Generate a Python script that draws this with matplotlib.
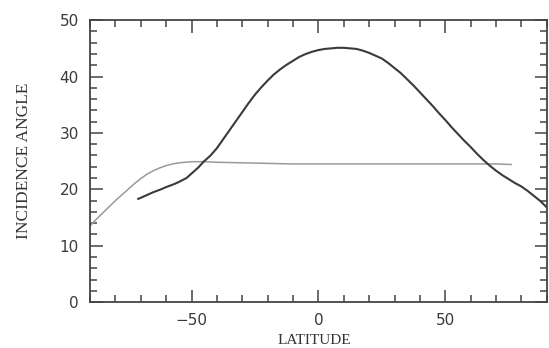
import matplotlib.pyplot as plt
from matplotlib.ticker import MultipleLocator

# dark curve
lat_dark = [-71, -68, -65, -62, -60, -57, -55, -52, -50, -47.5, -45, -42.5, -40, -37.5, -35,
            -32.5, -30, -27.5, -25, -22.5, -20, -17.5, -15, -12.5, -10, -7.5, -5, -2.5,
            0, 2.5, 5, 7.5, 10, 12.5, 15, 17.5, 20, 22.5, 25, 27.5, 30, 32.5, 35, 37.5,
            40, 42.5, 45, 47.5, 50, 52.5, 55, 57.5, 60, 62.5, 65, 67.5, 70, 72.5, 75,
            77.5, 80, 82.5, 85, 87.5, 90]
ang_dark = [18.3, 18.9, 19.5, 20.0, 20.4, 20.9, 21.3, 22.0, 22.8, 23.8, 25.0, 26.0, 27.3, 28.9, 30.5,
            32.1, 33.7, 35.3, 36.8, 38.1, 39.3, 40.4, 41.3, 42.1, 42.8, 43.5, 44.0, 44.4,
            44.7, 44.9, 45.0, 45.1, 45.1, 45.0, 44.9, 44.6, 44.2, 43.7, 43.2, 42.4, 41.5, 40.6, 39.5, 38.4,
            37.2, 36.0, 34.8, 33.5, 32.3, 31.0, 29.8, 28.6, 27.5, 26.3, 25.2, 24.2,
            23.3, 22.5, 21.8, 21.1, 20.5, 19.7, 18.8, 17.9, 16.8]

# light curve
lat_light = [-90, -87.5, -85, -82.5, -80, -77.5, -75, -72.5, -70, -67.5, -65, -62.5, -60, -57.5,
             -55, -52.5, -50, -45, -40, -30, -20, -10, 0, 10, 20, 30, 40, 50, 60, 70, 76]
ang_light = [13.5, 14.7, 15.8, 16.9, 18.0, 19.0, 20.0, 21.0, 21.9, 22.7, 23.3, 23.8, 24.2, 24.5,
             24.7, 24.8, 24.9, 24.9, 24.8, 24.7, 24.6, 24.5, 24.5, 24.5, 24.5, 24.5, 24.5, 24.5,
             24.5, 24.5, 24.4]

serif = ['Liberation Serif', 'DejaVu Serif']

fig = plt.figure(figsize=(5.49, 3.48), dpi=100)
ax = fig.add_axes([0.164, 0.132, 0.832, 0.81])

ax.plot(lat_light, ang_light, color='#9a9a9a', lw=1.1)
ax.plot(lat_dark, ang_dark, color='#3a3a3a', lw=1.5)

ax.set_xlim(-90, 90)
ax.set_ylim(0, 50)

ax.xaxis.set_major_locator(MultipleLocator(50))
ax.xaxis.set_minor_locator(MultipleLocator(10))
ax.yaxis.set_major_locator(MultipleLocator(10))
ax.yaxis.set_minor_locator(MultipleLocator(2))

ax.tick_params(which='both', direction='in', top=True, right=True, color='#444444')
ax.tick_params(which='major', length=9, width=1.1)
ax.tick_params(which='minor', length=5, width=1.1)
ax.tick_params(axis='both', labelsize=11, labelcolor='#3a3a3a')
ax.tick_params(axis='y', pad=8)
ax.tick_params(axis='x', pad=8)

for lbl in ax.get_xticklabels() + ax.get_yticklabels():
    lbl.set_family('DejaVu Sans')

for s in ax.spines.values():
    s.set_color('#444444')
    s.set_linewidth(1.3)

ax.set_xlabel('LATITUDE', family=serif, fontsize=11, color='#333333')
ax.set_ylabel('INCIDENCE ANGLE', family=serif, fontsize=12.5, color='#333333')
ax.xaxis.set_label_coords(0.492, -0.112)
ax.yaxis.set_label_coords(-0.128, 0.5)

fig.savefig('out.png', dpi=100)
